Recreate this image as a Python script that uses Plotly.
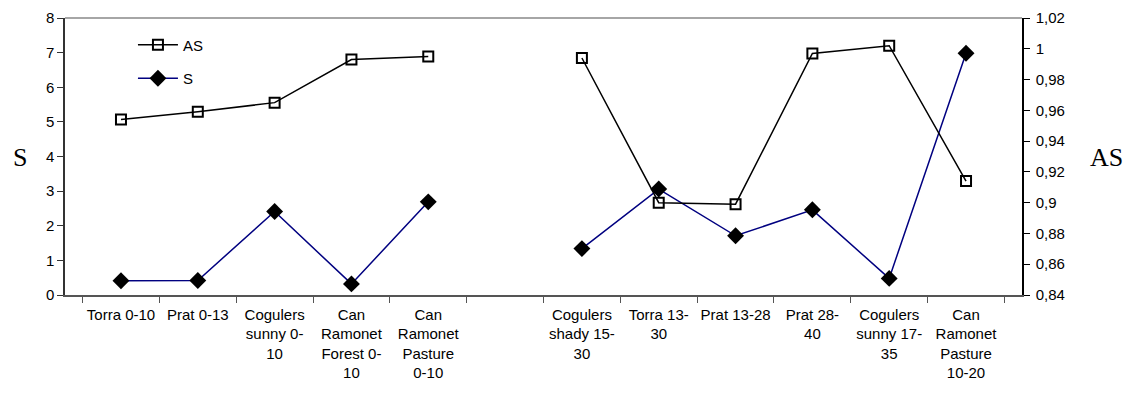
import plotly.graph_objects as go

categories = [
    "Torra 0-10", "Prat 0-13", "Cogulers<br>sunny 0-<br>10", "Can<br>Ramonet<br>Forest 0-<br>10",
    "Can<br>Ramonet<br>Pasture<br>0-10", " ",
    "Cogulers<br>shady 15-<br>30", "Torra 13-<br>30", "Prat 13-28", "Prat 28-<br>40",
    "Cogulers<br>sunny 17-<br>35", "Can<br>Ramonet<br>Pasture<br>10-20",
]
as_values = [0.954, 0.959, 0.965, 0.993, 0.995, None, 0.994, 0.900, 0.899, 0.997, 1.002, 0.914]
s_values = [0.41, 0.42, 2.41, 0.32, 2.69, None, 1.34, 3.06, 1.71, 2.46, 0.48, 6.98]
s_ticks = [0, 1, 2, 3, 4, 5, 6, 7, 8]
as_ticks = [0.84, 0.86, 0.88, 0.90, 0.92, 0.94, 0.96, 0.98, 1.00, 1.02]

FONT = "Liberation Sans, Arial, sans-serif"
SERIF = "Liberation Serif, Times New Roman, serif"

fig = go.Figure()
fig.add_trace(go.Scatter(
    x=categories, y=as_values, name="AS", yaxis="y2", mode="lines+markers",
    line=dict(color="black", width=1.5),
    marker=dict(symbol="square-open", size=10, color="black", line=dict(width=2)),
    connectgaps=False, legendgroup="a",
))
fig.add_trace(go.Scatter(
    x=categories, y=s_values, name="S", mode="lines+markers",
    line=dict(color="#000080", width=1.5),
    marker=dict(symbol="diamond", size=13, color="black"),
    connectgaps=False, legendgroup="b",
))

fig.update_layout(
    width=1138, height=399,
    margin=dict(l=65, r=116, t=18, b=104),
    paper_bgcolor="white", plot_bgcolor="white",
    separators=",.",
    font=dict(family=FONT, size=15, color="black"),
    showlegend=True,
    legend=dict(x=0.071, y=0.962, xanchor="left", yanchor="top",
                bgcolor="rgba(0,0,0,0)", font=dict(size=15, color="black"),
                tracegroupgap=11, itemwidth=40),
    xaxis=dict(
        type="category", categoryorder="array", categoryarray=categories,
        tickson="boundaries", ticks="outside", ticklen=6, tickcolor="#555",
        showline=True, linecolor="#555", linewidth=1.5, mirror=False,
        showgrid=False, zeroline=False, tickangle=0, automargin=False,
        tickfont=dict(size=15, family=FONT), ticklabelstandoff=5,
    ),
    yaxis=dict(
        range=[0, 8], tickvals=s_ticks, ticks="outside", ticklen=6,
        tickcolor="#333", showline=True, linecolor="#333", linewidth=1.5,
        showgrid=False, zeroline=False, tickfont=dict(size=15), automargin=False,
    ),
    yaxis2=dict(
        overlaying="y", side="right", range=[0.84, 1.02], tickvals=as_ticks,
        ticks="outside", ticklen=6, tickcolor="black", showline=True,
        linecolor="black", linewidth=1.5, showgrid=False, zeroline=False,
        tickfont=dict(size=15), automargin=False, ticklabelstandoff=3,
    ),
    shapes=[dict(type="line", xref="paper", yref="paper", x0=0, x1=1, y0=1, y1=1,
                 line=dict(color="#888", width=1.5))],
    annotations=[
        dict(text="S", xref="paper", yref="paper", x=-0.047, y=0.495, showarrow=False,
             xanchor="center", yanchor="middle", font=dict(family=SERIF, size=26, color="black")),
        dict(text="AS", xref="paper", yref="paper", x=1.088, y=0.495, showarrow=False,
             xanchor="center", yanchor="middle", font=dict(family=SERIF, size=26, color="black")),
    ],
)

fig.write_html("out.html")
